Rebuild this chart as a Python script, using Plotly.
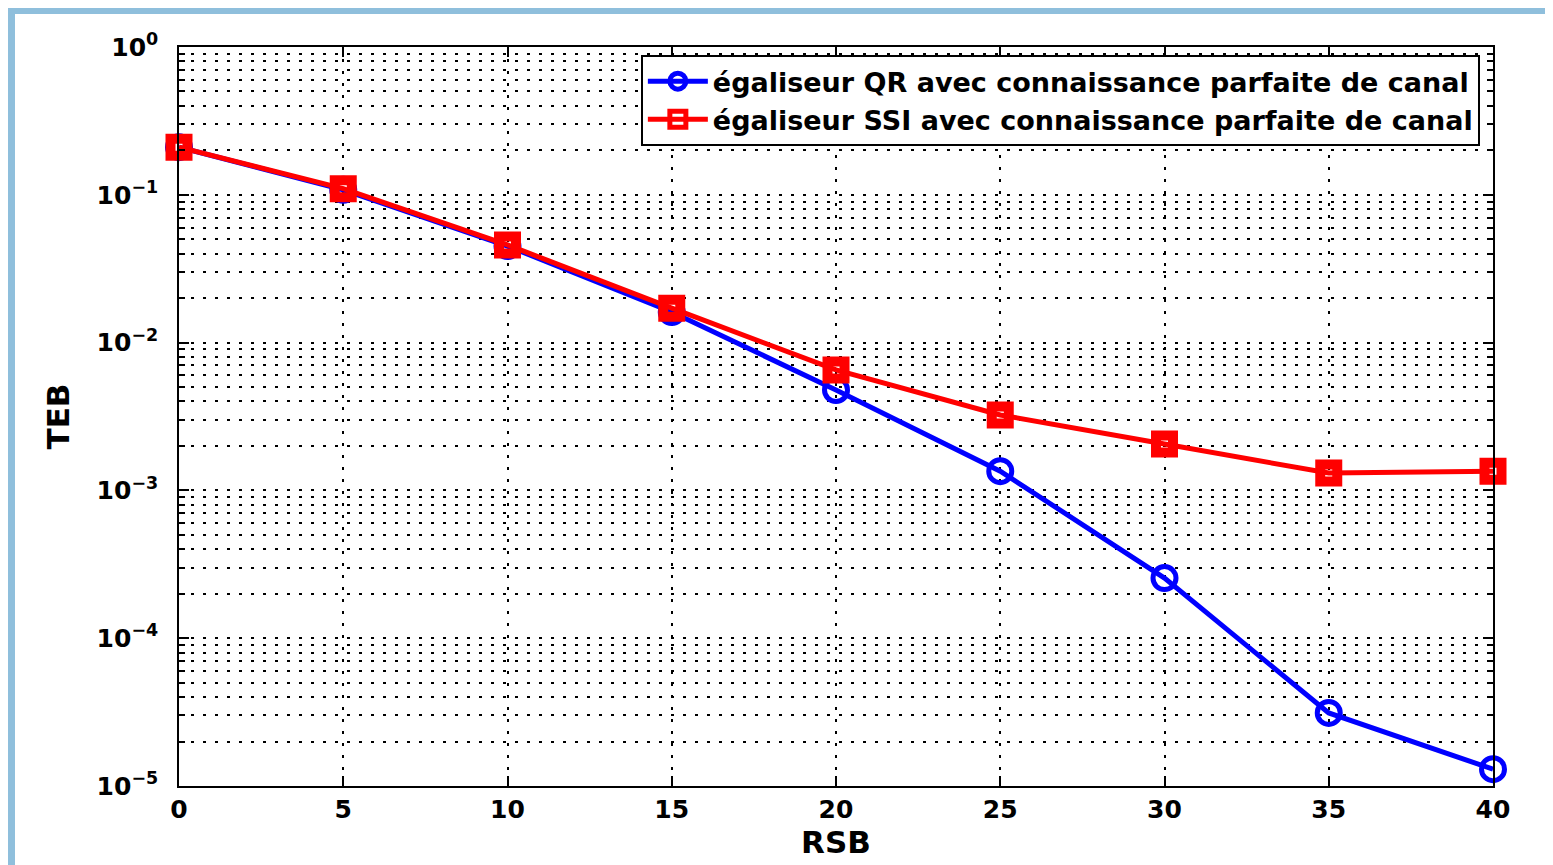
import plotly.graph_objects as go

# RSB (dB) and TEB values
rsb = [0, 5, 10, 15, 20, 25, 30, 35, 40]
teb_qr = [0.21, 0.108, 0.045, 0.0161, 0.00478, 0.00135, 0.000255, 0.0000312, 0.000013]
teb_ssi = [0.21, 0.11, 0.0458, 0.0171, 0.00653, 0.00324, 0.00206, 0.00131, 0.00135]

y_tickvals = [1e-5, 1e-4, 1e-3, 1e-2, 1e-1, 1e0]
y_ticktext = ["10<sup>−5</sup>", "10<sup>−4</sup>", "10<sup>−3</sup>",
              "10<sup>−2</sup>", "10<sup>−1</sup>", "10<sup>0</sup>"]

# page is drawn with an 8px body margin, so the figure is a bit smaller
W, H = 1545, 857
ml, mt = 171, 39
pw, ph = 1314, 739
mr, mb = W - ml - pw, H - mt - ph

def px_x(p):
    return (p - ml) / pw

def px_y(p):
    return (H - mb - p) / ph

fig = go.Figure()

fig.add_trace(go.Scatter(
    x=rsb, y=teb_qr, mode="lines+markers",
    name="égaliseur QR avec connaissance parfaite de canal",
    line=dict(color="#0000ff", width=5),
    marker=dict(symbol="circle-open", size=23, color="#0000ff", line=dict(width=5)),
    cliponaxis=False,
))
fig.add_trace(go.Scatter(
    x=rsb, y=teb_ssi, mode="lines+markers",
    name="égaliseur SSI avec connaissance parfaite de canal",
    line=dict(color="#ff0000", width=5),
    marker=dict(symbol="square-open", size=17, color="#ff0000", line=dict(width=10)),
    cliponaxis=False,
))

# slide-like blue frame around a white page
fig.add_shape(type="rect", xref="paper", yref="paper", layer="below",
              x0=px_x(7), x1=px_x(W + 5), y0=px_y(H + 5), y1=px_y(6),
              fillcolor="white", line=dict(width=0))

FONT = "DejaVu Sans"
axis_font = dict(family=FONT, size=25, color="black", weight="bold")
title_font = dict(family=FONT, size=31, color="black", weight="bold")
grid_dash = "3px,9px"

fig.update_layout(
    width=W, height=H,
    margin=dict(l=ml, r=mr, t=mt, b=mb, autoexpand=False),
    paper_bgcolor="#8fbfdc",
    plot_bgcolor="white",
    font=dict(family=FONT, color="black", weight="bold"),
    showlegend=True,
    legend=dict(
        x=0.990, y=0.989, xanchor="right", yanchor="top",
        bgcolor="white", bordercolor="black", borderwidth=2,
        font=dict(family=FONT, size=27, color="black", weight="bold"),
        itemwidth=60, tracegroupgap=0,
    ),
)

fig.update_xaxes(
    range=[0, 40], tickvals=rsb, tickfont=axis_font,
    ticks="inside", ticklen=10, tickcolor="black", tickwidth=1.5,
    showline=True, linecolor="black", linewidth=1.5, mirror="ticks",
    showgrid=True, gridcolor="black", griddash=grid_dash, gridwidth=1.5,
    zeroline=False,
    title=dict(text="RSB", font=title_font, standoff=0),
)
fig.update_yaxes(
    type="log", range=[-5, 0], tickvals=y_tickvals, ticktext=y_ticktext,
    tickfont=axis_font,
    ticks="inside", ticklen=10, tickcolor="black", tickwidth=1.5, ticklabelstandoff=14,
    showline=True, linecolor="black", linewidth=1.5, mirror="ticks",
    showgrid=True, gridcolor="black", griddash=grid_dash, gridwidth=1.5,
    minor=dict(dtick="D1", ticks="inside", ticklen=6, tickcolor="black",
               showgrid=True, gridcolor="black", griddash=grid_dash, gridwidth=1.5),
    zeroline=False,
    title=dict(text="TEB", font=title_font, standoff=18),
)

fig.write_html("out.html")
